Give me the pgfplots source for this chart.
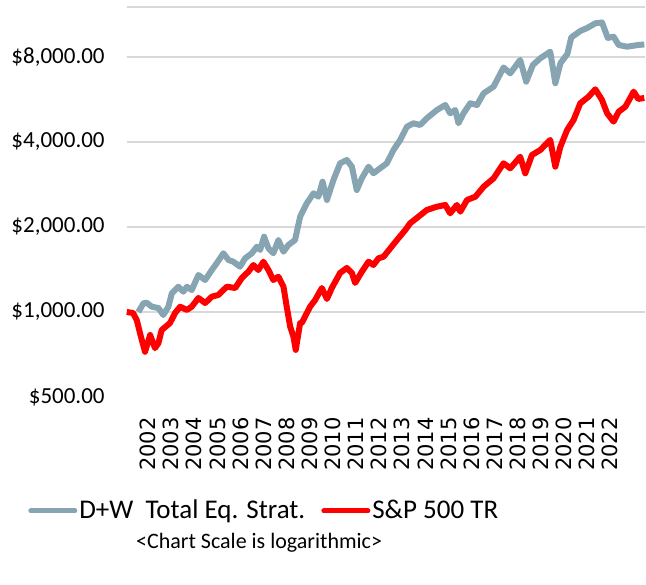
\documentclass[border=0pt]{standalone}
\usepackage{fontspec}
\setmainfont{Carlito}
\newfontfamily\yearfont{DejaVu Sans}
\usepackage{pgfplots}
\pgfplotsset{compat=1.18}
\definecolor{dwgray}{RGB}{134,164,177}
\definecolor{gridgray}{RGB}{217,217,217}
\pgfplotstableread{
x y
2001.58 1000
2001.80 1073
2001.94 1079
2002.16 1044
2002.45 1033
2002.66 976
2002.88 1044
2003.03 1165
2003.31 1229
2003.53 1180
2003.68 1229
2003.89 1196
2004.18 1352
2004.47 1298
2004.76 1408
2004.97 1488
2005.26 1614
2005.48 1528
2005.69 1507
2005.98 1447
2006.20 1549
2006.49 1614
2006.71 1703
2006.85 1658
2007.02 1848
2007.21 1681
2007.42 1614
2007.64 1799
2007.86 1635
2008.07 1727
2008.36 1799
2008.58 2175
2008.87 2427
2009.16 2632
2009.37 2560
2009.55 2894
2009.74 2493
2010.02 2934
2010.31 3362
2010.60 3453
2010.82 3270
2011.03 2704
2011.25 2975
2011.54 3270
2011.75 3099
2012.04 3228
2012.33 3362
2012.62 3748
2012.91 4067
2013.20 4531
2013.48 4659
2013.77 4595
2014.06 4853
2014.50 5192
2014.86 5408
2015.07 5055
2015.29 5192
2015.43 4659
2015.65 5055
2015.94 5484
2016.23 5408
2016.52 5950
2016.95 6282
2017.38 7342
2017.67 7003
2018.10 7807
2018.36 6540
2018.65 7494
2018.97 7917
2019.40 8352
2019.62 6457
2019.84 7599
2020.14 8197
2020.31 9379
2020.70 9890
2021.00 10134
2021.35 10526
2021.64 10600
2021.89 9343
2022.14 9441
2022.36 8822
2022.72 8700
2023.21 8822
2023.47 8858
}\dwdata
\pgfplotstableread{
x y
2001.08 1000
2001.35 992
2001.51 937
2001.73 796
2001.87 723
2002.09 829
2002.30 745
2002.45 776
2002.59 863
2002.95 914
2003.17 992
2003.39 1044
2003.68 1017
2003.89 1044
2004.18 1121
2004.47 1076
2004.76 1133
2005.04 1149
2005.41 1229
2005.77 1216
2006.06 1320
2006.34 1389
2006.56 1467
2006.77 1408
2006.99 1507
2007.21 1408
2007.42 1298
2007.64 1333
2007.86 1229
2008.00 1044
2008.15 887
2008.29 818
2008.39 734
2008.58 914
2008.65 914
2009.01 1044
2009.23 1103
2009.52 1216
2009.74 1112
2009.95 1216
2010.31 1375
2010.60 1432
2010.82 1375
2010.96 1267
2011.25 1389
2011.54 1507
2011.75 1467
2011.97 1549
2012.19 1570
2012.48 1681
2012.77 1799
2013.13 1952
2013.34 2062
2013.70 2175
2014.06 2297
2014.50 2360
2014.86 2393
2015.07 2236
2015.36 2393
2015.51 2266
2015.80 2493
2016.16 2560
2016.52 2778
2016.95 2975
2017.38 3362
2017.67 3228
2018.10 3548
2018.32 3099
2018.61 3598
2018.97 3748
2019.40 4067
2019.62 3270
2019.84 3850
2020.13 4411
2020.41 4786
2020.70 5484
2021.06 5788
2021.35 6147
2021.64 5634
2021.86 5055
2022.14 4721
2022.36 5120
2022.65 5333
2023.01 6029
2023.21 5680
2023.47 5727
}\spdata
\begin{document}
\begin{tikzpicture}
\begin{axis}[
  scale only axis, width=259pt, height=195pt,
  ymode=log, log basis y=2,
  xmin=2001.09, xmax=2023.5, ymin=500, ymax=12025,
  axis line style={draw=none},
  major tick length=0pt,
  tick style={draw=none},
  clip=false,
  ytick={1000,2000,4000,8000,12025},
  yticklabels={{\$1,000.00},{\$2,000.00},{\$4,000.00},{\$8,000.00},{}},
  extra y ticks={500},
  extra y tick labels={{\$500.00}},
  extra y tick style={grid=none},
  ymajorgrids,
  major grid style={draw=gridgray, line width=0.75pt},
  yticklabel style={font=\fontsize{11.5}{12}\selectfont, anchor=east, inner sep=0pt},
  yticklabel shift=11pt,
  xtick={2002,2003,...,2022},
  xticklabels={2002,2003,2004,2005,2006,2007,2008,2009,2010,2011,2012,2013,2014,2015,2016,2017,2018,2019,2020,2021,2022},
  xticklabel style={font=\yearfont\fontsize{10.5}{10.5}\selectfont, rotate=90, anchor=east, inner sep=0pt},
  xticklabel shift=10pt,
  legend columns=2,
  legend style={at={(0.265,-0.292)}, anchor=center, draw=none, fill=none,
    font=\fontsize{13.5}{14}\selectfont, nodes={inner sep=1pt},
    /tikz/column 2/.style={column sep=7pt}},
  legend image code/.code={\draw[#1, line width=2.5pt, line cap=round] (0pt,0pt) -- (22pt,0pt);},
]
\addplot[dwgray, line width=3pt, line join=round, no markers] table {\dwdata};
\addlegendentry{D+W\ \ Total Eq. Strat.}
\addplot[red, line width=3pt, line join=round, no markers] table {\spdata};
\addlegendentry{S\&P 500 TR}
\node[font=\fontsize{11}{12}\selectfont] at (axis description cs:0.255,-0.374) {<Chart Scale is logarithmic>};
\end{axis}
\pgfresetboundingbox
\path[use as bounding box] (-63.5pt,-93.5pt) rectangle (259.5pt,198.5pt);
\end{tikzpicture}
\end{document}
